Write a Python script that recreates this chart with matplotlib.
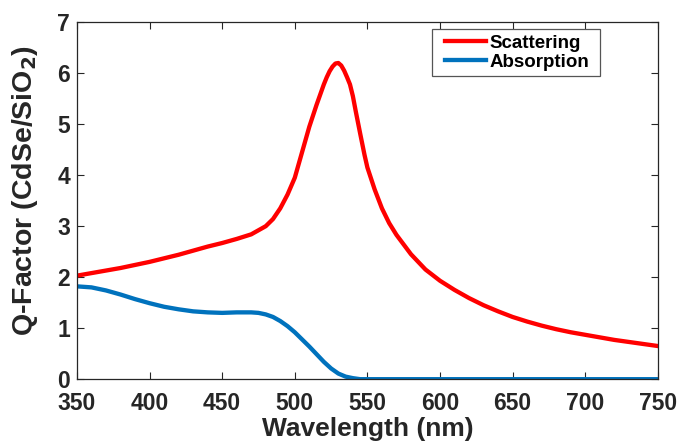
import matplotlib
matplotlib.use("Agg")
import matplotlib.pyplot as plt
from matplotlib.patches import Rectangle

# Q-factor spectra of CdSe/SiO2 particle
wl_sca = [350, 360, 370, 380, 390, 400, 410, 420, 430, 440, 450, 460, 470, 480, 485,
          490, 495, 500, 505, 510, 515, 520, 522, 524, 526, 528, 530, 532, 534, 536,
          538, 540, 542, 545, 548, 550, 555, 560, 565, 570, 580, 590, 600, 610, 620,
          630, 640, 650, 660, 670, 680, 690, 700, 710, 720, 730, 740, 750]
q_sca = [2.03, 2.08, 2.13, 2.18, 2.24, 2.30, 2.37, 2.44, 2.52, 2.60, 2.67, 2.75, 2.84, 3.00, 3.14,
         3.35, 3.62, 3.95, 4.45, 4.95, 5.38, 5.78, 5.92, 6.04, 6.13, 6.19, 6.20, 6.15, 6.05, 5.92,
         5.78, 5.55, 5.25, 4.82, 4.40, 4.15, 3.72, 3.35, 3.06, 2.83, 2.45, 2.15, 1.93, 1.75, 1.59,
         1.45, 1.33, 1.22, 1.13, 1.05, 0.98, 0.92, 0.87, 0.82, 0.77, 0.73, 0.69, 0.65]

wl_abs = [350, 360, 370, 380, 390, 400, 410, 420, 430, 440, 450, 460, 470, 475, 480,
          485, 490, 495, 500, 505, 510, 515, 520, 525, 530, 535, 540, 545, 550, 600,
          650, 700, 750]
q_abs = [1.82, 1.80, 1.74, 1.66, 1.57, 1.49, 1.42, 1.37, 1.33, 1.31, 1.30, 1.31, 1.31, 1.30, 1.27,
         1.22, 1.14, 1.04, 0.92, 0.78, 0.64, 0.49, 0.34, 0.21, 0.11, 0.05, 0.02, 0.0, 0.0, 0.0,
         0.0, 0.0, 0.0]

xticks = [350, 400, 450, 500, 550, 600, 650, 700, 750]
yticks = [0, 1, 2, 3, 4, 5, 6, 7]

plt.rcParams['font.family'] = ['Liberation Sans', 'DejaVu Sans']
plt.rcParams['font.weight'] = 'bold'
plt.rcParams['mathtext.default'] = 'bf'
ink = '#262626'

fig = plt.figure(figsize=(6.81, 4.44), dpi=100)
ax = fig.add_axes([0.113, 0.146, 0.853, 0.804])

ax.plot(wl_sca, q_sca, color='#ff0000', lw=3.1, label='Scattering')
ax.plot(wl_abs, q_abs, color='#0072bd', lw=3.1, label='Absorption')

ax.set_xlim(350, 750)
ax.set_ylim(0, 7)
ax.set_xticks(xticks)
ax.set_yticks(yticks)
ax.tick_params(direction='in', top=True, right=True, length=5, width=0.8,
               labelsize=16.5, colors=ink)
ax.tick_params(axis='x', pad=9.5)
ax.tick_params(axis='y', pad=5)
for lab in ax.get_xticklabels() + ax.get_yticklabels():
    lab.set_fontweight('bold')
for sp in ax.spines.values():
    sp.set_color(ink)
    sp.set_linewidth(0.9)

ax.set_xlabel('Wavelength (nm)', fontsize=19, fontweight='bold', color=ink, labelpad=1)
ax.set_ylabel(r'Q-Factor (CdSe/SiO$_2$)', fontsize=20.5, fontweight='bold', color=ink)
ax.yaxis.set_label_coords(-0.063, 0.53)

# legend box drawn separately so the padding can be wider than tall
leg = ax.legend(loc='center', bbox_to_anchor=(0.758, 0.915), fontsize=13.5,
                frameon=False, handlelength=2.2, handletextpad=0.2,
                labelspacing=0.1, borderpad=0)
for t in leg.get_texts():
    t.set_fontweight('bold')
    t.set_color('black')
ax.add_patch(Rectangle((0.611, 0.849), 0.289, 0.131, transform=ax.transAxes,
                       facecolor='white', edgecolor='#555555', lw=0.9, zorder=4))
leg.set_zorder(5)

fig.savefig('out.png', dpi=100)
